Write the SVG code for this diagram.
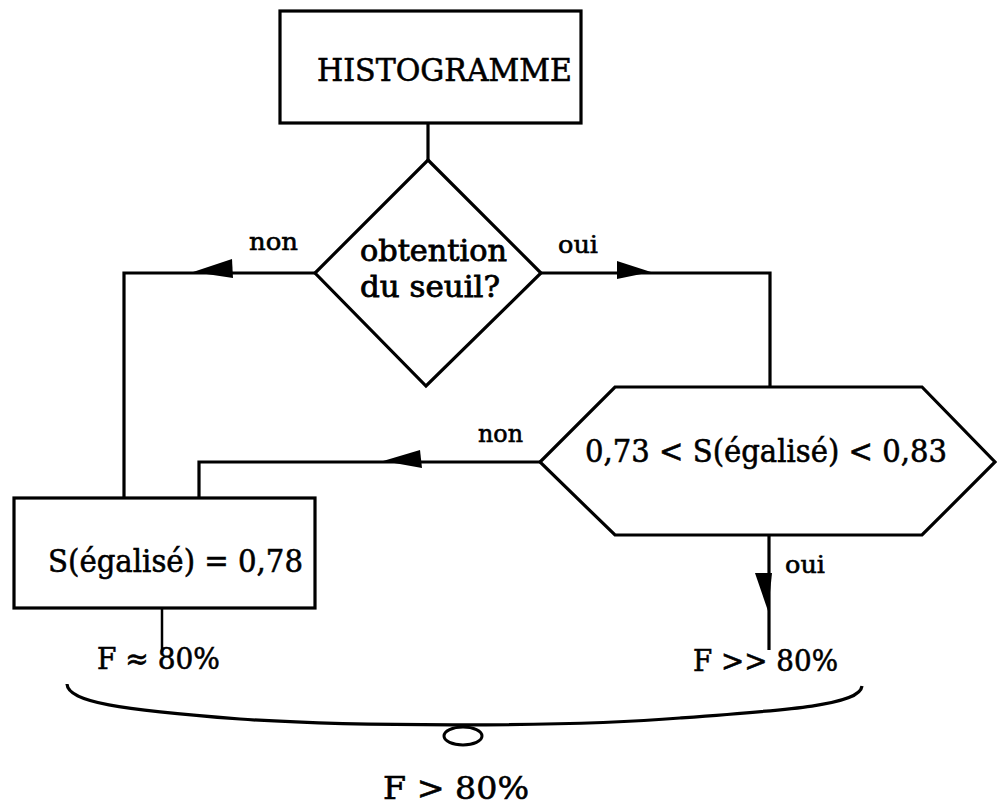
<svg xmlns="http://www.w3.org/2000/svg" width="998" height="806" viewBox="0 0 998 806">
<style>
.shape{fill:#fff;stroke:#000;stroke-width:3.2;stroke-linejoin:miter}
.line{fill:none;stroke:#000;stroke-width:3.2}
.thin{fill:none;stroke:#000;stroke-width:2.5}
.head{fill:#000;stroke:none}
text{font-family:"DejaVu Serif","Liberation Serif",serif;fill:#000;stroke:#000;stroke-width:0.6}
.lbl{font-size:25px}
.big{font-size:32px}
.q{font-size:29px;stroke-width:0.8}
.mid{font-size:32px}
.f{font-size:30px}
</style>
<rect width="998" height="806" fill="#fff"/>
<g id="connectors">
<path class="line" d="M428,123 V160"/>
<path class="line" d="M315,273 H124 V498"/>
<path class="head" d="M193,272 L232,259 L233,278 Z"/>
<path class="line" d="M541,273 H770 V387"/>
<path class="head" d="M651,272 L617,261 L617,279 Z"/>
<path class="line" d="M540,462 H199 V498"/>
<path class="head" d="M383,461 L420,450 L422,468 Z"/>
<path class="line" d="M769,535 V650"/>
<path class="head" d="M755,573 L772,573 L768,611 Z"/>
<path class="thin" d="M162,608 V652"/>
<text class="lbl" x="249" y="250" textLength="49" lengthAdjust="spacingAndGlyphs">non</text>
<text class="lbl" x="558" y="253" textLength="40" lengthAdjust="spacingAndGlyphs">oui</text>
<text class="lbl" x="478" y="442" textLength="45" lengthAdjust="spacingAndGlyphs">non</text>
<text class="lbl" x="785" y="573" textLength="40" lengthAdjust="spacingAndGlyphs">oui</text>
</g>
<g id="histogramme">
<rect class="shape" x="280" y="11" width="301" height="112"/>
<text class="big" x="317" y="81" font-size="33" textLength="255" lengthAdjust="spacingAndGlyphs">HISTOGRAMME</text>
</g>
<g id="seuil">
<polygon class="shape" points="428,160 541,273 426,386 315,273"/>
<text class="q" x="360" y="261" textLength="147" lengthAdjust="spacingAndGlyphs">obtention</text>
<text class="q" x="360" y="297" textLength="140" lengthAdjust="spacingAndGlyphs">du seuil?</text>
</g>
<g id="intervalle">
<polygon class="shape" points="615,387 922,387 995,462 922,535 615,535 540,462"/>
<text class="mid" x="585" y="462" textLength="362" lengthAdjust="spacingAndGlyphs">0,73 &lt; S(égalisé) &lt; 0,83</text>
</g>
<g id="egalise">
<rect class="shape" x="14" y="498" width="301" height="110"/>
<text class="mid" x="48" y="572" textLength="255" lengthAdjust="spacingAndGlyphs">S(égalisé) = 0,78</text>
</g>
<g id="resultats">
<text class="f" x="97" y="669" textLength="123" lengthAdjust="spacingAndGlyphs">F ≈ 80%</text>
<text class="f" x="693" y="671" textLength="145" lengthAdjust="spacingAndGlyphs">F &gt;&gt; 80%</text>
<path class="line" d="M67,684 C68,702 120,710 240,719 C340,726 560,728 680,718 C790,710 860,705 862,686"/>
<ellipse cx="463" cy="736" rx="19" ry="9" fill="#fff" stroke="#000" stroke-width="3"/>
<text x="383" y="799" font-size="32" textLength="146" lengthAdjust="spacingAndGlyphs">F &gt; 80%</text>
</g>
</svg>
